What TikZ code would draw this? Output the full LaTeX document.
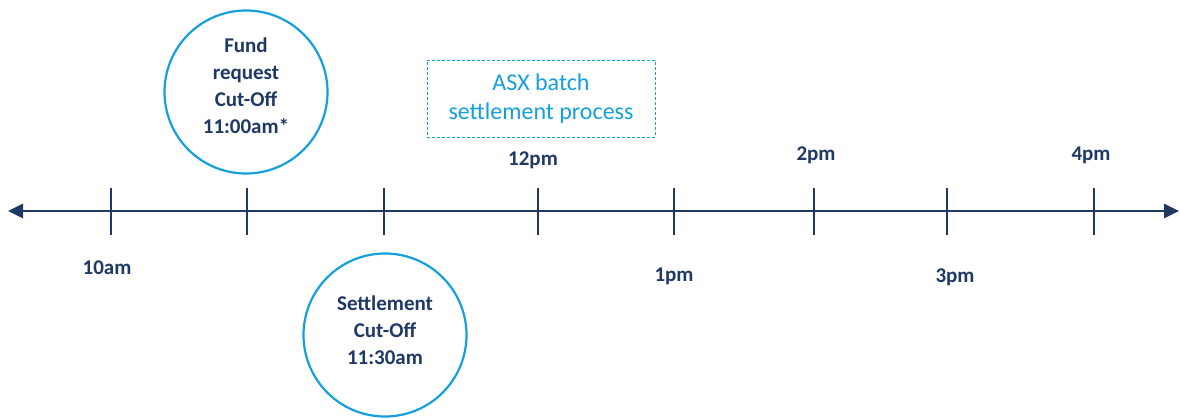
\documentclass[tikz,border=0pt]{standalone}
\usepackage{fontspec}
\setmainfont{Carlito}
\usetikzlibrary{arrows.meta}
\definecolor{navy}{RGB}{31,56,100}
\definecolor{skyb}{RGB}{20,160,220}
\begin{document}
\begin{tikzpicture}[x=1pt,y=-1pt,
  tick/.style={draw=navy,line width=1.3pt},
  lbl/.style={text=navy,font=\fontsize{21}{25}\selectfont\bfseries,inner sep=0pt},
  cut/.style={circle,draw=skyb,line width=2.2pt,minimum size=163pt,inner sep=0pt},
  cuttext/.style={align=center,text=navy,inner sep=0pt,font=\fontsize{21}{27}\selectfont\bfseries},
  proc/.style={draw=skyb,densely dashed,line width=0.9pt,minimum width=228pt,minimum height=77pt,inner sep=0pt,align=center,text=skyb,font=\fontsize{24}{29}\selectfont}]
\useasboundingbox (0,0) rectangle (1180,418);
\coordinate (L) at (8,211);
\coordinate (R) at (1179,211);
\draw[navy,line width=2.8pt,{Triangle[length=15pt,width=14pt]}-{Triangle[length=15pt,width=14pt]}] (L) -- (R);
\foreach \x/\n in {111/t1,247/t2,384/t3,538/t4,674/t5,814/t6,947/t7,1094/t8}{
  \coordinate (\n a) at (\x,188);
  \coordinate (\n b) at (\x,235);
  \draw[tick] (\n a) -- (\n b);
}
\node[lbl] (l10) at (107,268) {10am};
\node[lbl] (l12) at (533,160) {12pm};
\node[lbl] (l1) at (674,276) {1pm};
\node[lbl] (l2) at (816,155) {2pm};
\node[lbl] (l3) at (955,277) {3pm};
\node[lbl] (l4) at (1091,155) {4pm};
\node[cut] (fundc) at (246,92) {};
\node[cuttext] (fund) at (246,85.5) {Fund\\request\\Cut-Off\\11:00am*};
\node[cut] (settlec) at (385,335) {};
\node[cuttext] (settle) at (385,330) {Settlement\\Cut-Off\\11:30am};
\node[proc] (asx) at (541,98.5) {ASX batch\\settlement process};
\end{tikzpicture}
\end{document}
